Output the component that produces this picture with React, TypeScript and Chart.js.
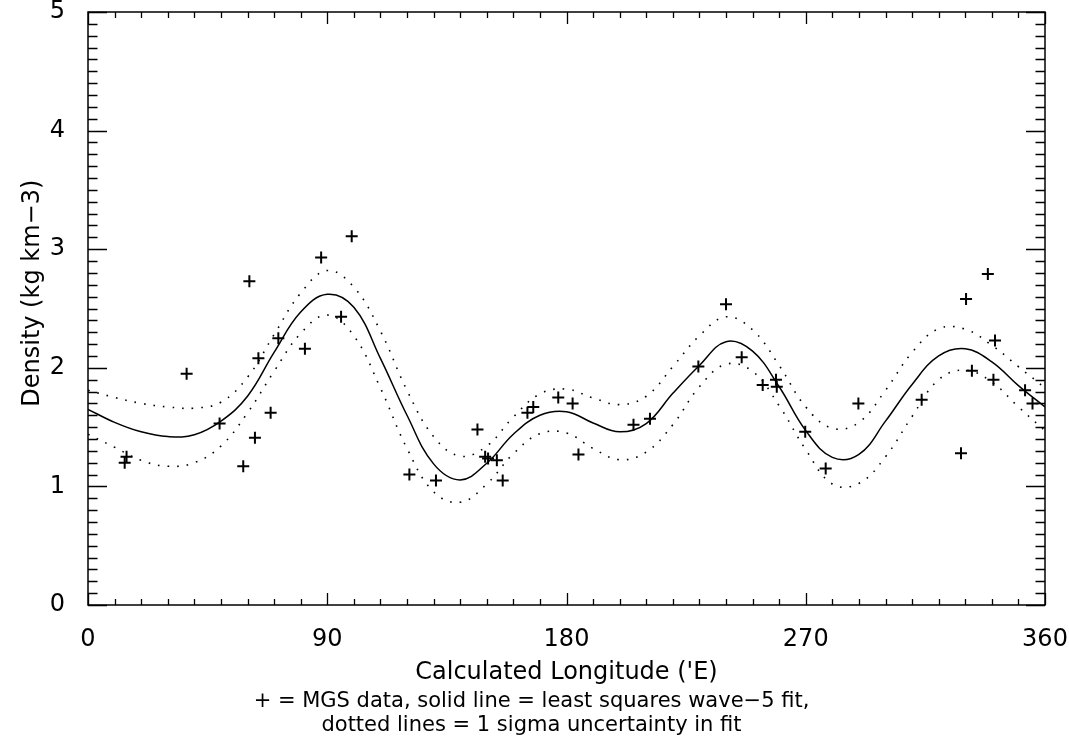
import React, { useEffect, useRef } from 'react';
import { Chart, registerables } from 'chart.js';

Chart.register(...registerables);

// MGS data points (longitude 'E, density kg km-3)
const dataLon = [13.8, 14.5, 37.1, 49.5, 58.4, 60.7, 62.8, 64.1, 68.7, 71.6, 81.6, 87.7, 95.2, 99.2,
  120.9, 130.9, 146.5, 149.4, 150.5, 153.8, 156.0, 165.3, 167.5, 176.9, 182.3, 184.5, 205.2, 211.4,
  229.6, 240.0, 245.9, 253.8, 258.8, 259.1, 269.8, 277.5, 289.8, 313.6, 328.4, 330.3, 332.5, 338.5,
  340.6, 341.2, 352.5, 355.3];
const dataDensity = [1.20, 1.25, 1.95, 1.53, 1.17, 2.73, 1.41, 2.08, 1.62, 2.25, 2.16, 2.93, 2.43, 3.11,
  1.10, 1.05, 1.48, 1.25, 1.235, 1.22, 1.05, 1.62, 1.67, 1.75, 1.70, 1.27, 1.52, 1.57,
  2.01, 2.535, 2.09, 1.855, 1.90, 1.84, 1.46, 1.15, 1.70, 1.73, 1.28, 2.58, 1.975, 2.79,
  1.90, 2.23, 1.81, 1.70];

// wave-5 fit every 10 degrees
const fitLon = [0, 10, 20, 30, 40, 50, 60, 70, 80, 90, 100, 110, 120, 130, 140, 150, 160, 170, 180,
  190, 200, 210, 220, 230, 240, 250, 260, 270, 280, 290, 300, 310, 320, 330, 340, 350, 360];
const fitMean = [1.65, 1.54, 1.46, 1.42, 1.435, 1.55, 1.76, 2.13, 2.47, 2.62, 2.51, 2.08, 1.60, 1.19, 1.055,
  1.195, 1.44, 1.60, 1.63, 1.535, 1.46, 1.53, 1.785, 2.02, 2.22, 2.14, 1.84, 1.47, 1.245, 1.27, 1.55,
  1.86, 2.10, 2.16, 2.05, 1.85, 1.67];
const fitUpper = [1.81, 1.75, 1.70, 1.67, 1.66, 1.71, 1.92, 2.28, 2.63, 2.82, 2.68, 2.31, 1.81, 1.42, 1.255,
  1.34, 1.585, 1.78, 1.82, 1.745, 1.69, 1.76, 2.01, 2.27, 2.43, 2.32, 2.02, 1.67, 1.49, 1.54, 1.81,
  2.13, 2.33, 2.325, 2.19, 2.01, 1.83];
const fitLower = [1.44, 1.33, 1.22, 1.17, 1.20, 1.34, 1.62, 1.97, 2.29, 2.445, 2.27, 1.83, 1.32, 0.955, 0.866,
  1.02, 1.275, 1.445, 1.45, 1.32, 1.225, 1.29, 1.52, 1.84, 2.03, 1.97, 1.68, 1.31, 1.02, 1.025, 1.25,
  1.59, 1.90, 1.98, 1.88, 1.67, 1.47];

const xTickLabels = [0, 90, 180, 270, 360];
const yTickLabels = [0, 1, 2, 3, 4, 5];
const xMinorStep = 10;
const yMinorStep = 0.1;

const xTitle = "Calculated Longitude ('E)";
const yTitle = '    Density (kg km\u22123)';
const caption = [
  '+ = MGS data, solid line = least squares wave\u22125 fit,',
  'dotted lines = 1 sigma uncertainty in fit',
];

const FONT = "'DejaVu Sans', sans-serif";

const idlAxesPlugin = {
  id: 'idlAxes',
  afterDatasetsDraw(chart: any) {
    const { ctx, chartArea: a, scales } = chart;
    const x = scales.x;
    const y = scales.y;
    ctx.save();
    ctx.strokeStyle = '#000';
    ctx.lineWidth = 1.5;
    ctx.strokeRect(a.left, a.top, a.right - a.left, a.bottom - a.top);
    ctx.lineWidth = 1.3;
    ctx.beginPath();
    const xMajor = 12, xMinor = 6, yMajor = 19, yMinor = 9.5;
    const nx = Math.round((x.max - x.min) / xMinorStep);
    for (let i = 0; i <= nx; i++) {
      const v = x.min + i * xMinorStep;
      const px = Math.round(x.getPixelForValue(v)) + 0.5;
      const len = xTickLabels.includes(Math.round(v)) ? xMajor : xMinor;
      ctx.moveTo(px, a.bottom);
      ctx.lineTo(px, a.bottom - len);
      ctx.moveTo(px, a.top);
      ctx.lineTo(px, a.top + len);
    }
    const ny = Math.round((y.max - y.min) / yMinorStep);
    const perMajor = Math.round(1 / yMinorStep);
    for (let i = 0; i <= ny; i++) {
      const v = y.min + i * yMinorStep;
      const py = Math.round(y.getPixelForValue(v)) + 0.5;
      const len = i % perMajor === 0 ? yMajor : yMinor;
      ctx.moveTo(a.left, py);
      ctx.lineTo(a.left + len, py);
      ctx.moveTo(a.right, py);
      ctx.lineTo(a.right - len, py);
    }
    ctx.stroke();
    ctx.restore();
  },
};

export default function App() {
  const ref = useRef<HTMLCanvasElement | null>(null);

  useEffect(() => {
    document.body.style.margin = '0';
    const canvas = ref.current;
    if (!canvas) return;
    const toXY = (xs: number[], ys: number[]) => xs.map((v, i) => ({ x: v, y: ys[i] }));

    const lineCommon = {
      showLine: true,
      borderColor: '#000',
      pointRadius: 0,
      tension: 0.4,
    };

    const chart = new Chart(canvas, {
      type: 'scatter',
      data: {
        datasets: [
          { label: 'upper', data: toXY(fitLon, fitUpper), ...lineCommon, borderWidth: 1.6, borderDash: [1.6, 8] },
          { label: 'lower', data: toXY(fitLon, fitLower), ...lineCommon, borderWidth: 1.6, borderDash: [1.6, 8] },
          { label: 'fit', data: toXY(fitLon, fitMean), ...lineCommon, borderWidth: 1.5 },
          {
            label: 'MGS data',
            data: toXY(dataLon, dataDensity),
            showLine: false,
            pointStyle: 'cross',
            pointRadius: 6,
            pointBorderWidth: 2,
            pointBorderColor: '#000',
            pointBackgroundColor: '#000',
          },
        ],
      },
      options: {
        animation: false,
        responsive: false,
        devicePixelRatio: 1,
        layout: { padding: { left: 18, right: 24, top: 12, bottom: 9 } },
        plugins: {
          legend: { display: false },
          tooltip: { enabled: false },
          title: {
            display: true,
            position: 'bottom',
            text: caption,
            color: '#000',
            font: { family: FONT, size: 21, weight: 'normal', lineHeight: 24 / 21 },
            padding: { top: 3, bottom: 1 },
          },
        },
        scales: {
          x: {
            type: 'linear',
            min: 0,
            max: 360,
            afterBuildTicks: (scale: any) => {
              scale.ticks = xTickLabels.map((v) => ({ value: v }));
            },
            afterFit: (scale: any) => {
              scale.height = 82;
              scale.paddingLeft = 0;
              scale.paddingRight = 0;
            },
            grid: { display: false, drawTicks: false },
            border: { display: false },
            ticks: {
              color: '#000',
              padding: 20,
              maxRotation: 0,
              autoSkip: false,
              font: { family: FONT, size: 24 },
            },
            title: {
              display: true,
              text: xTitle,
              color: '#000',
              font: { family: FONT, size: 24 },
              padding: 0,
            },
          },
          y: {
            type: 'linear',
            min: 0,
            max: 5,
            afterBuildTicks: (scale: any) => {
              scale.ticks = yTickLabels.map((v) => ({ value: v }));
            },
            afterFit: (scale: any) => {
              scale.width = 70;
              scale.paddingTop = 0;
              scale.paddingBottom = 0;
            },
            grid: { display: false, drawTicks: false },
            border: { display: false },
            ticks: {
              color: '#000',
              padding: 23,
              autoSkip: false,
              font: { family: FONT, size: 24 },
            },
            title: {
              display: true,
              text: yTitle,
              color: '#000',
              font: { family: FONT, size: 24 },
              padding: 0,
            },
          },
        },
      },
      plugins: [idlAxesPlugin],
    } as any);

    return () => chart.destroy();
  }, []);

  return (
    <div style={{ width: 1069, height: 748, background: '#fff' }}>
      <canvas ref={ref} width={1069} height={748} style={{ display: 'block' }} />
    </div>
  );
}
